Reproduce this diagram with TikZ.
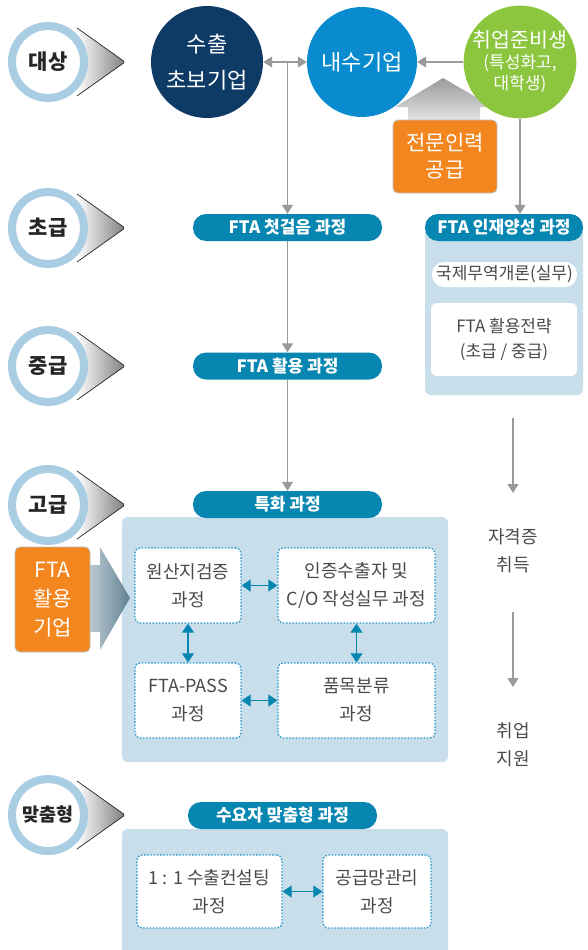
\documentclass[tikz,border=0pt]{standalone}
\usepackage{fontspec}
\setmainfont{Noto Sans CJK KR}
\usetikzlibrary{arrows.meta}
\definecolor{ringblue}{HTML}{A9CDE3}
\definecolor{chevgray}{HTML}{7E7E80}
\definecolor{navy}{HTML}{0E3A66}
\definecolor{skyblue}{HTML}{0A8BCF}
\definecolor{leafgreen}{HTML}{8CC63F}
\definecolor{courseteal}{HTML}{0786B2}
\definecolor{panelblue}{HTML}{C8DEEB}
\definecolor{dotblue}{HTML}{2A98CC}
\definecolor{linegray}{HTML}{9A9A9C}
\definecolor{orangebox}{HTML}{F3861F}
\definecolor{textgray}{HTML}{4A4A4A}
\newcommand{\levelmark}[3]{
	\begin{scope}[shift={(#2)}]
	\shade [left color=white, right color=chevgray, rounded corners=1.5pt] (29,-34) -- (77,0) -- (29,34) -- cycle;
	\draw [black!85, line width=0.7pt, rounded corners=1.5pt] (29,-34) -- (77,0) -- (29,34);
	\node [levelring] (#1) at (0,0) {#3};
	\end{scope}}
\tikzset{
	levelring/.style={circle, draw=ringblue, line width=8pt, fill=white, minimum size=72pt, inner sep=0pt,
		font=\fontsize{21}{24}\selectfont\bfseries, text=black!85},
	group/.style={circle, inner sep=0pt, text=white, align=center},
	course/.style={fill=courseteal, text=white, rounded corners=13pt, minimum height=27pt, inner sep=0pt,
		font=\fontsize{17}{18}\selectfont\bfseries},
	panel/.style={fill=panelblue, rounded corners=6pt, inner sep=0pt},
	subject/.style={draw=dotblue, line width=1.3pt, dash pattern=on 1.6pt off 1.6pt, fill=white, rounded corners=5pt,
		inner sep=0pt, align=center, text=textgray, font=\fontsize{18}{28}\selectfont},
	whitebox/.style={fill=white, inner sep=0pt, align=center, text=textgray, font=\fontsize{17}{25}\selectfont},
	orangelabel/.style={fill=orangebox, draw=black!25, line width=0.8pt, rounded corners=5pt, inner sep=0pt,
		align=center, text=white},
	grayline/.style={draw=linegray, line width=1.1pt, -{Triangle[width=11pt,length=9pt]}},
	tealline/.style={draw=courseteal, line width=1.1pt, {Triangle[width=12pt,length=9pt]}-{Triangle[width=12pt,length=9pt]}},
	note/.style={align=center, text=textgray, font=\fontsize{18}{28}\selectfont}
}
\begin{document}
\begin{tikzpicture}[x=1pt,y=-1pt]
	\useasboundingbox (0,0) rectangle (587,950);
	\clip (0,0) rectangle (587,950);
	% levels on the left
	\levelmark{target}{48,62}{대상}
	\levelmark{beginner}{48,228}{초급}
	\levelmark{middle}{48,366}{중급}
	\levelmark{advanced}{48,505}{고급}
	\levelmark{tailored}{48,815}{\fontsize{18.5}{20}\selectfont 맞춤형}
	% supply arrow, behind the circles
	\shade [top color=linegray, bottom color=linegray!20] (443,78) -- (493,107) -- (480,107) -- (480,125) -- (408,125) -- (408,107) -- (395,107) -- cycle;
	% target groups
	\node [group, fill=navy, minimum size=112pt, font=\fontsize{22}{36}\selectfont] (export) at (207,62) {수출\\초보기업};
	\node [group, fill=skyblue, minimum size=110pt, font=\fontsize{22}{24}\selectfont] (domestic) at (362,62) {내수기업};
	\node [group, fill=leafgreen, minimum size=110pt, font=\fontsize{20.5}{24}\selectfont] (student) at (520,62)
		{취업준비생\\[-3pt]{\fontsize{17}{21}\selectfont (특성화고,}\\[-3pt]{\fontsize{17}{21}\selectfont 대학생)}};
	\node [orangelabel, minimum width=104pt, minimum height=73pt, font=\fontsize{21}{27}\selectfont] (supply) at (445,156.5) {전문인력\\공급};
	% panels
	\node [panel, minimum width=158pt, minimum height=167pt] (talentpanel) at (504,311.5) {};
	\node [panel, minimum width=326pt, minimum height=245pt] (specialpanel) at (285,639.5) {};
	\node [panel, minimum width=326pt, minimum height=141pt] (custompanel) at (285,899.5) {};
	% courses
	\node [course, minimum width=189pt] (basic) at (287.5,227.5) {FTA 첫걸음 과정};
	\node [course, minimum width=189pt] (use) at (287.5,366) {FTA 활용 과정};
	\node [course, minimum width=189pt] (special) at (287.5,504.5) {특화 과정};
	\node [course, minimum width=189pt] (custom) at (282.5,815.5) {수요자 맞춤형 과정};
	\node [course, minimum width=158pt] (talent) at (504,227.5) {FTA 인재양성 과정};
	\node [whitebox, rounded corners=12pt, minimum width=145pt, minimum height=25pt] (trade) at (504.5,274.5) {국제무역개론(실무)};
	\node [whitebox, rounded corners=6pt, minimum width=146pt, minimum height=73pt] (strategy) at (504,339.5) {FTA 활용전략\\(초급 / 중급)};
	% companies using FTA
	\shade [left color=white, right color=chevgray!75!skyblue] (60,565) -- (100,565) -- (100,547) -- (130,598) -- (100,650) -- (100,632) -- (60,632) -- cycle;
	\node [orangelabel, minimum width=75pt, minimum height=105pt, font=\fontsize{21}{29}\selectfont] (ftauser) at (52.5,599.5) {FTA\\활용\\기업};
	% special subjects
	\node [subject, minimum width=106pt, minimum height=75pt] (origin) at (188,585.5) {원산지검증\\과정};
	\node [subject, minimum width=157pt, minimum height=75pt] (exporter) at (356.5,585.5) {인증수출자 및\\C/O 작성실무 과정};
	\node [subject, minimum width=106pt, minimum height=75pt] (pass) at (188,700.5) {FTA-PASS\\과정};
	\node [subject, minimum width=157pt, minimum height=75pt] (hscode) at (356.5,700.5) {품목분류\\과정};
	\node [subject, minimum width=145pt, minimum height=73pt] (consult) at (209.5,891.5) {1 : 1 수출컨설팅\\과정};
	\node [subject, minimum width=108pt, minimum height=73pt] (chain) at (377,891.5) {공급망관리\\과정};
	\draw [tealline] (origin) -- (exporter);
	\draw [tealline] (origin) -- (pass);
	\draw [tealline] (exporter) -- (hscode);
	\draw [tealline] (pass) -- (hscode);
	\draw [tealline] (consult) -- (chain);
	% flow
	\coordinate (split) at (287.5,62);
	\draw [grayline, {Triangle[width=11pt,length=9pt]}-{Triangle[width=11pt,length=9pt]}] (export) -- (domestic);
	\draw [grayline] (split) -- (basic);
	\draw [grayline] (student) -- (domestic);
	\draw [grayline] (student.south) -- (student.south |- talent.north);
	\draw [grayline] (basic) -- (use);
	\draw [grayline] (use) -- (special);
	% right column
	\node [note] (license) at (513,551) {자격증\\취득};
	\node [note] (job) at (513,745) {취업\\지원};
	\coordinate (cstart) at (513,418);
	\coordinate (cend) at (513,493);
	\coordinate (jstart) at (513,612);
	\coordinate (jend) at (513,687);
	\draw [grayline] (cstart) -- (cend);
	\draw [grayline] (jstart) -- (jend);
\end{tikzpicture}
\end{document}
